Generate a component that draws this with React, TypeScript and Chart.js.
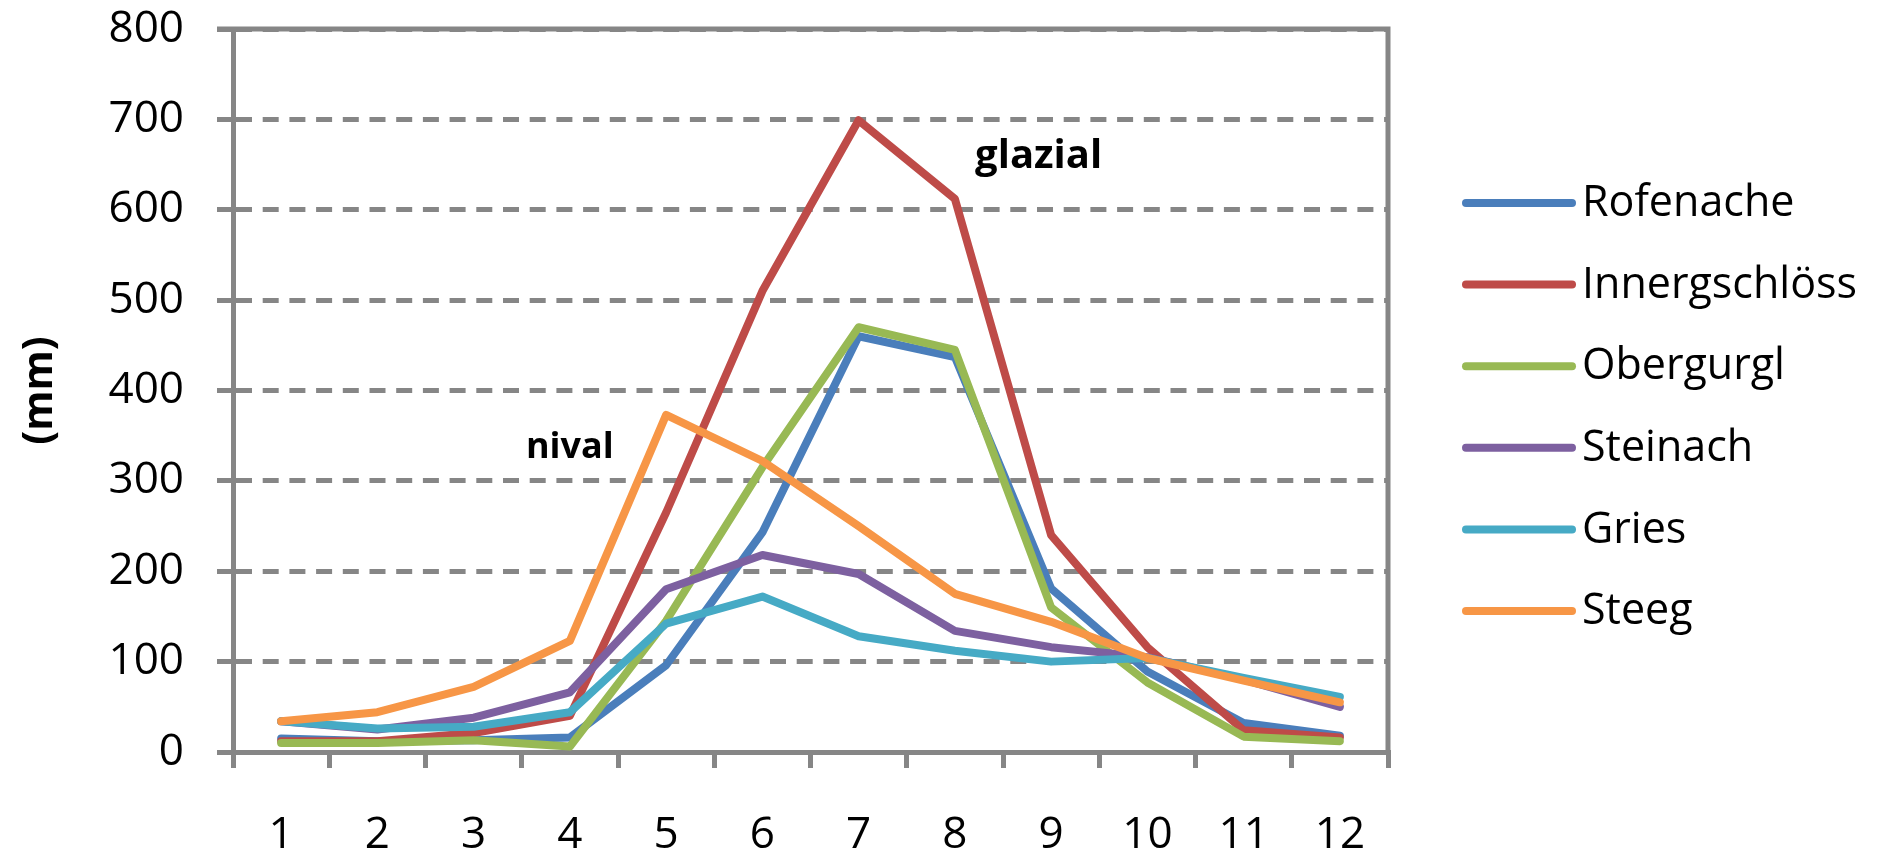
import { useEffect, useRef } from 'react';
import { Chart, registerables } from 'chart.js';

Chart.register(...registerables);

// Monthly runoff (mm) for six Alpine gauging stations
const months = ['1', '2', '3', '4', '5', '6', '7', '8', '9', '10', '11', '12'];
const seriesNames = ['Rofenache', 'Innergschlöss', 'Obergurgl', 'Steinach', 'Gries', 'Steeg'];
const rofenache = [15, 12, 13, 16, 96, 243, 460, 437, 181, 89, 32, 18];
const innergschloess = [12, 12, 21, 40, 265, 510, 699, 612, 240, 116, 24, 16];
const obergurgl = [10, 10, 13, 6, 145, 315, 470, 445, 160, 77, 17, 12];
const steinach = [34, 25, 38, 66, 180, 218, 197, 134, 116, 105, 80, 50];
const gries = [34, 26, 28, 44, 142, 172, 128, 112, 100, 104, 82, 61];
const steeg = [34, 44, 72, 123, 373, 322, 250, 175, 144, 104, 79, 55];
const seriesValues = [rofenache, innergschloess, obergurgl, steinach, gries, steeg];
const seriesColors = ['#4A7EBB', '#BE4B48', '#98B954', '#7D60A0', '#46AAC5', '#F79646'];

const yMin = 0;
const yMax = 800;
const yStep = 100;
const yTitle = '(mm)';

// Regime labels placed in data units (category index, mm)
const regimeLabels = [
  { text: 'nival', index: 3.0, value: 325, size: 36 },
  { text: 'glazial', index: 7.87, value: 646, size: 40 },
];

const FONT = "'Open Sans', 'Noto Sans', sans-serif";
const GRAY = '#868686';

const frameAndLegend = {
  id: 'frameAndLegend',
  afterDraw(chart: any) {
    const { ctx, chartArea, scales } = chart;
    ctx.save();
    // solid frame on top and right of the plot area
    ctx.strokeStyle = GRAY;
    ctx.lineWidth = 5;
    ctx.setLineDash([]);
    ctx.beginPath();
    ctx.moveTo(chartArea.left - 16, chartArea.top);
    ctx.lineTo(chartArea.right + 2.5, chartArea.top);
    ctx.moveTo(chartArea.right, chartArea.top - 2.5);
    ctx.lineTo(chartArea.right, chartArea.bottom);
    ctx.stroke();

    // regime annotations
    ctx.fillStyle = '#000';
    ctx.textAlign = 'center';
    ctx.textBaseline = 'alphabetic';
    regimeLabels.forEach((a) => {
      ctx.font = `bold ${a.size}px ${FONT}`;
      const x = scales.x.getPixelForValue(a.index);
      const y = scales.y.getPixelForValue(a.value);
      ctx.fillText(a.text, x, y);
    });

    // legend on the right
    const lx0 = 1466;
    const lx1 = 1572;
    const top = 203;
    const rowGap = 81.6;
    ctx.font = `43px ${FONT}`;
    ctx.textAlign = 'left';
    ctx.textBaseline = 'middle';
    chart.data.datasets.forEach((ds: any, i: number) => {
      const y = top + i * rowGap;
      ctx.strokeStyle = ds.borderColor;
      ctx.lineWidth = 8;
      ctx.lineCap = 'round';
      ctx.beginPath();
      ctx.moveTo(lx0, y);
      ctx.lineTo(lx1, y);
      ctx.stroke();
      ctx.fillStyle = '#000';
      ctx.fillText(ds.label, lx1 + 10, y + 1);
    });
    ctx.restore();
  },
};

export default function App() {
  const canvasRef = useRef<HTMLCanvasElement | null>(null);

  useEffect(() => {
    const canvas = canvasRef.current;
    if (!canvas) return;
    const chart = new Chart(canvas, {
      type: 'line',
      data: {
        labels: months,
        datasets: seriesNames.map((name, i) => ({
          label: name,
          data: seriesValues[i],
          borderColor: seriesColors[i],
          backgroundColor: seriesColors[i],
          borderWidth: 8,
          pointRadius: 0,
          tension: 0,
          fill: false,
          borderJoinStyle: 'round',
          borderCapStyle: 'round',
          order: seriesNames.length - 1 - i,
        })),
      },
      options: {
        responsive: false,
        animation: false,
        layout: { padding: { left: 0, top: 29, right: 497, bottom: 0 } },
        plugins: {
          legend: { display: false },
          tooltip: { enabled: false },
        },
        scales: {
          x: {
            type: 'category',
            offset: true,
            grid: {
              offset: true,
              drawOnChartArea: false,
              drawTicks: true,
              tickLength: 16,
              color: GRAY,
              lineWidth: 5,
            },
            border: { display: true, color: GRAY, width: 5 },
            ticks: {
              font: { family: FONT, size: 44 },
              color: '#000',
              padding: 41,
              maxRotation: 0,
              autoSkip: false,
            },
            afterFit: (s: any) => {
              s.height = 105;
              s.paddingLeft = 0;
              s.paddingRight = 0;
            },
          },
          y: {
            min: yMin,
            max: yMax,
            ticks: {
              stepSize: yStep,
              font: { family: FONT, size: 44 },
              color: '#000',
              padding: 33,
            },
            grid: {
              color: GRAY,
              lineWidth: 5,
              drawTicks: true,
              tickLength: 16,
            },
            border: { display: true, color: GRAY, width: 5, dash: [16, 10.7] },
            title: {
              display: true,
              text: yTitle,
              color: '#000',
              font: { family: FONT, size: 41, weight: 'bold' },
              padding: { top: 16, bottom: 0 },
            },
            afterFit: (s: any) => {
              s.width = 233;
              s.paddingTop = 0;
              s.paddingBottom = 0;
            },
          },
        },
      } as any,
      plugins: [frameAndLegend],
    });
    return () => chart.destroy();
  }, []);

  return (
    <canvas
      ref={canvasRef}
      width={1885}
      height={857}
      style={{ position: 'absolute', left: 0, top: 0, width: 1885, height: 857, background: '#fff' }}
    />
  );
}
